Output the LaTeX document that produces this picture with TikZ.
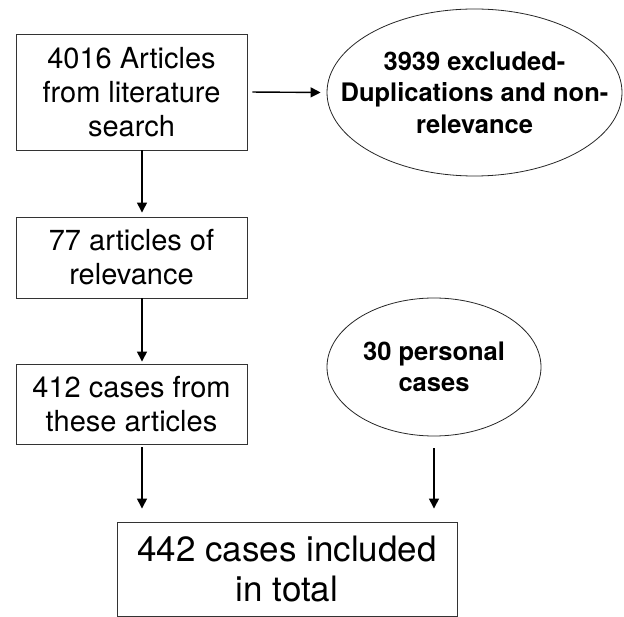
\documentclass[tikz,border=0pt]{standalone}
\usepackage{fontspec}
\setmainfont{TeX Gyre Heros}
\usetikzlibrary{shapes.geometric,arrows.meta}
\begin{document}
\begin{tikzpicture}[x=1pt,y=-1pt,
    box/.style={draw=black!80,line width=0.9pt,rectangle,align=center,inner sep=0pt,
      font=\fontsize{29}{34}\selectfont},
    oval/.style={draw=black!85,line width=0.8pt,ellipse,inner sep=0pt},
    ovaltext/.style={align=center,inner sep=0pt,font=\bfseries\fontsize{25.5}{31.5}\selectfont},
    flow/.style={-{Triangle[length=10pt,width=10pt]},line width=1.4pt}]
  \useasboundingbox (0,0) rectangle (624,617);
  \coordinate (lane) at (142,0);
  \draw
    (131.5,92) node[box,minimum width=231pt,minimum height=116pt] (search){4016 Articles\\from literature\\search}
    (131.5,257.5) node[box,minimum width=231pt,minimum height=81pt] (relev){77 articles of\\relevance}
    (131.5,404) node[box,minimum width=231pt,minimum height=80pt] (cases){412 cases from\\these articles}
    (287,569) node[box,minimum width=340pt,minimum height=94pt,font=\fontsize{35}{40}\selectfont] (total){442 cases included\\in total}
    (474.5,92.5) node[oval,minimum width=295pt,minimum height=167pt,
      label={[ovaltext]center:3939 excluded-\\Duplications and non-\\relevance}] (excl){}
    (434,367) node[oval,minimum width=214pt,minimum height=138pt,
      label={[ovaltext]center:30 personal\\cases}] (pers){};
  \begin{scope}[flow]
    \draw[shorten <=5pt,shorten >=6pt] (search.east) to (excl.west);
    \draw[shorten >=4pt] (search.south -| lane) to (relev.north -| lane);
    \draw[shorten >=2pt] (relev.south -| lane) to (cases.north -| lane);
    \draw[shorten <=3pt,shorten >=13pt] (cases.south -| lane) to (total.north -| lane);
    \draw[shorten <=12pt,shorten >=13pt] (pers.south) to (pers.south |- total.north);
  \end{scope}
\end{tikzpicture}
\end{document}
